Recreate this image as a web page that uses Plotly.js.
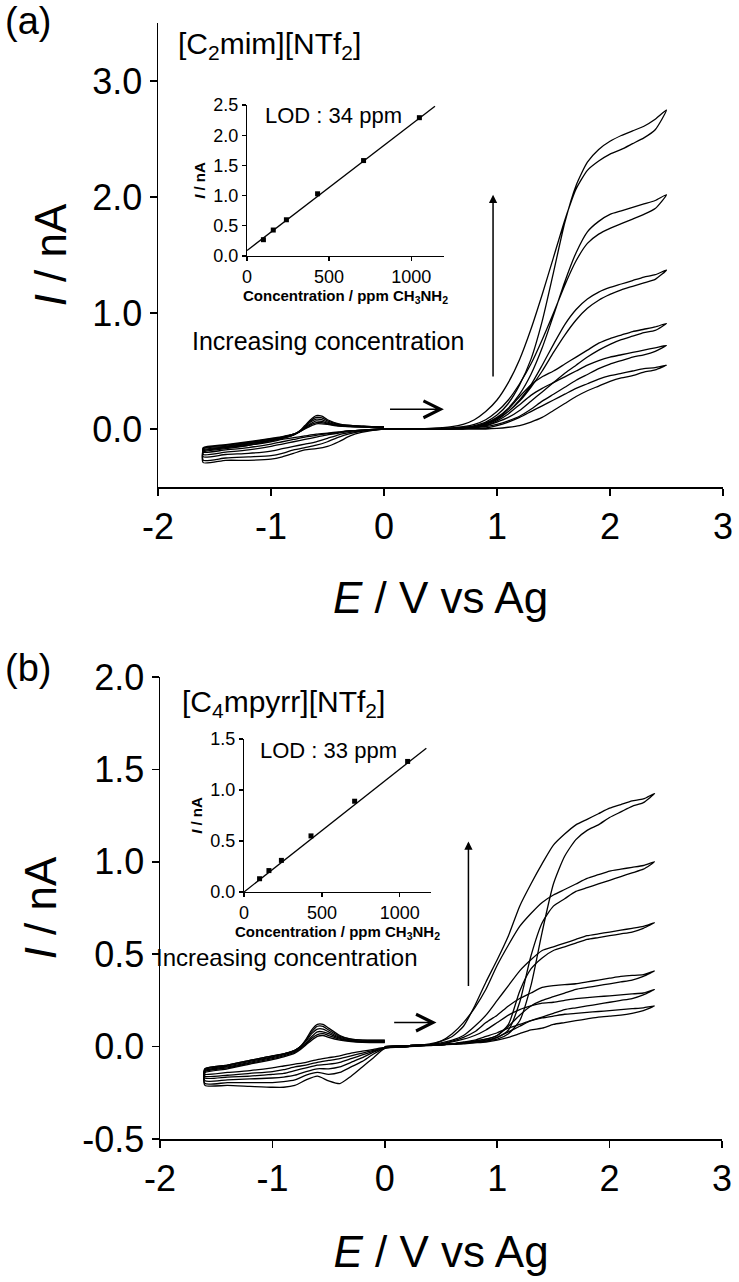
<!DOCTYPE html>
<html>
<head>
<meta charset="utf-8">
<script src="https://cdn.plot.ly/plotly-3.0.1.min.js"></script>
<style>html,body{margin:0;padding:0;background:#fff;}#chart{width:739px;height:1282px;}</style>
</head>
<body>
<div id="chart"></div>
<script>
// ---------- DATA ----------
// Panel (a): potential sweep 0 -> 2.5 -> 0 -> -1.6 -> 0 V
const potentialA = [0,0.2,0.4,0.6,0.7,0.8,0.9,1.0,1.1,1.2,1.3,1.4,1.5,1.6,1.7,1.8,1.9,2.0,2.1,2.2,2.3,2.4,2.5,
  2.4,2.3,2.2,2.1,2.0,1.9,1.8,1.7,1.6,1.5,1.4,1.3,1.2,1.1,1.0,0.9,0.8,0.7,0.6,0.4,0.2,0,
  -0.2,-0.3,-0.4,-0.5,-0.6,-0.7,-0.8,-0.9,-1.0,-1.2,-1.4,-1.6,
  -1.6,-1.4,-1.2,-1.0,-0.9,-0.8,-0.75,-0.7,-0.65,-0.6,-0.55,-0.5,-0.4,-0.3,-0.2,-0.1,0];
const currentA1 = [0,0,0,0.005,0.01,0.03,0.06,0.12,0.22,0.38,0.6,0.93,1.35,1.78,2.1,2.3,2.41,2.48,2.53,2.57,2.61,2.67,2.75,
  2.58,2.51,2.46,2.41,2.37,2.31,2.23,2.07,1.8,1.48,1.16,0.86,0.6,0.4,0.25,0.15,0.08,0.04,0.02,0.005,0,0,
  -0.03,-0.06,-0.11,-0.15,-0.17,-0.18,-0.21,-0.24,-0.26,-0.27,-0.27,-0.29,
  -0.2,-0.17,-0.14,-0.1,-0.08,-0.05,-0.02,0.03,0.08,0.115,0.11,0.08,0.045,0.03,0.025,0.02,0.02];
const currentA2 = [0,0,0,0.005,0.01,0.02,0.05,0.1,0.18,0.3,0.47,0.7,0.98,1.27,1.52,1.7,1.79,1.85,1.88,1.91,1.94,1.97,2.02,
  1.9,1.85,1.81,1.77,1.73,1.68,1.6,1.45,1.24,1.0,0.77,0.56,0.39,0.25,0.15,0.08,0.04,0.02,0.01,0,0,0,
  -0.02,-0.04,-0.07,-0.11,-0.14,-0.16,-0.18,-0.21,-0.23,-0.24,-0.25,-0.27,
  -0.19,-0.16,-0.13,-0.1,-0.08,-0.05,-0.02,0.02,0.07,0.1,0.095,0.07,0.04,0.03,0.025,0.02,0.02];
const currentA3 = [0,0,0,0.005,0.01,0.02,0.04,0.08,0.15,0.25,0.38,0.55,0.73,0.9,1.03,1.12,1.18,1.22,1.25,1.28,1.31,1.33,1.37,
  1.29,1.26,1.23,1.2,1.16,1.11,1.04,0.94,0.81,0.66,0.5,0.36,0.24,0.15,0.09,0.05,0.02,0.01,0.005,0,0,0,
  -0.015,-0.03,-0.05,-0.08,-0.11,-0.13,-0.15,-0.17,-0.19,-0.21,-0.22,-0.24,
  -0.18,-0.155,-0.125,-0.095,-0.075,-0.05,-0.025,0.015,0.06,0.085,0.08,0.06,0.035,0.025,0.02,0.02,0.02];
const currentA4 = [0,0,0,0.005,0.01,0.02,0.04,0.09,0.17,0.28,0.38,0.45,0.5,0.56,0.62,0.68,0.74,0.78,0.81,0.84,0.86,0.88,0.91,
  0.85,0.83,0.8,0.77,0.73,0.68,0.62,0.55,0.48,0.4,0.32,0.24,0.16,0.1,0.06,0.03,0.015,0.005,0,0,0,0,
  -0.01,-0.02,-0.035,-0.05,-0.07,-0.09,-0.11,-0.13,-0.15,-0.18,-0.2,-0.22,
  -0.17,-0.15,-0.12,-0.09,-0.07,-0.045,-0.025,0.01,0.045,0.07,0.065,0.05,0.03,0.022,0.02,0.018,0.018];
const currentA5 = [0,0,0,0,0.005,0.01,0.03,0.07,0.13,0.21,0.29,0.35,0.4,0.45,0.5,0.55,0.59,0.62,0.64,0.66,0.68,0.7,0.72,
  0.67,0.64,0.62,0.59,0.56,0.52,0.47,0.42,0.36,0.3,0.24,0.17,0.11,0.07,0.04,0.02,0.01,0,0,0,0,0,
  -0.01,-0.015,-0.03,-0.04,-0.055,-0.07,-0.09,-0.11,-0.13,-0.16,-0.18,-0.2,
  -0.165,-0.14,-0.115,-0.085,-0.07,-0.045,-0.025,0.005,0.035,0.055,0.055,0.045,0.03,0.02,0.018,0.016,0.016];
const currentA6 = [0,0,0,0,0,0.005,0.01,0.03,0.06,0.1,0.15,0.2,0.25,0.3,0.35,0.39,0.43,0.46,0.48,0.5,0.52,0.53,0.55,
  0.51,0.49,0.46,0.44,0.41,0.37,0.33,0.28,0.22,0.16,0.1,0.06,0.03,0.015,0.005,0,0,0,0,0,0,0,
  -0.01,-0.015,-0.025,-0.035,-0.045,-0.06,-0.075,-0.09,-0.11,-0.14,-0.16,-0.18,
  -0.16,-0.135,-0.11,-0.08,-0.065,-0.045,-0.025,0,0.025,0.045,0.045,0.04,0.025,0.02,0.016,0.015,0.015];

// Panel (b): potential sweep 0 -> 2.4 -> 0 -> -1.6 -> 0 V
const potentialB = [0,0.2,0.4,0.5,0.6,0.7,0.8,0.9,1.0,1.1,1.2,1.3,1.4,1.5,1.6,1.7,1.8,1.9,2.0,2.1,2.2,2.3,2.4,
  2.3,2.2,2.1,2.0,1.9,1.8,1.7,1.6,1.5,1.4,1.3,1.2,1.1,1.0,0.9,0.8,0.7,0.6,0.5,0.4,0.2,0,
  -0.1,-0.2,-0.3,-0.4,-0.5,-0.6,-0.7,-0.8,-0.9,-1.0,-1.2,-1.4,-1.6,
  -1.6,-1.4,-1.2,-1.0,-0.9,-0.8,-0.75,-0.7,-0.65,-0.6,-0.55,-0.5,-0.4,-0.3,-0.2,-0.1,0];
const currentB1 = [0,0.005,0.01,0.01,0.015,0.02,0.025,0.03,0.04,0.07,0.14,0.33,0.62,0.88,1.03,1.12,1.17,1.2,1.24,1.27,1.3,1.32,1.37,
  1.34,1.33,1.31,1.29,1.26,1.23,1.2,1.15,1.09,0.99,0.88,0.76,0.6,0.47,0.35,0.22,0.11,0.055,0.03,0.015,0,-0.01,
  -0.06,-0.11,-0.16,-0.2,-0.185,-0.16,-0.18,-0.21,-0.22,-0.22,-0.215,-0.21,-0.21,
  -0.12,-0.1,-0.075,-0.05,-0.04,-0.02,0,0.04,0.09,0.12,0.12,0.1,0.06,0.04,0.035,0.035,0.035];
const currentB2 = [0,0.005,0.01,0.01,0.015,0.02,0.025,0.03,0.05,0.09,0.24,0.49,0.67,0.76,0.8,0.84,0.86,0.88,0.9,0.92,0.94,0.96,1.0,
  0.98,0.97,0.96,0.95,0.93,0.91,0.88,0.85,0.82,0.78,0.72,0.65,0.55,0.44,0.31,0.21,0.13,0.07,0.03,0.01,0,-0.01,
  -0.04,-0.08,-0.11,-0.14,-0.15,-0.14,-0.155,-0.18,-0.19,-0.195,-0.195,-0.195,-0.2,
  -0.12,-0.1,-0.075,-0.05,-0.04,-0.02,0,0.035,0.08,0.11,0.11,0.09,0.055,0.04,0.035,0.033,0.033];
const currentB3 = [0,0.005,0.01,0.01,0.015,0.02,0.03,0.04,0.06,0.12,0.3,0.42,0.48,0.52,0.54,0.56,0.58,0.59,0.6,0.61,0.62,0.64,0.67,
  0.65,0.64,0.63,0.62,0.61,0.6,0.58,0.56,0.54,0.52,0.47,0.41,0.33,0.25,0.17,0.11,0.06,0.035,0.02,0.01,0,-0.005,
  -0.03,-0.06,-0.085,-0.11,-0.12,-0.12,-0.135,-0.155,-0.165,-0.17,-0.175,-0.18,-0.185,
  -0.125,-0.105,-0.08,-0.055,-0.04,-0.02,0,0.03,0.07,0.095,0.095,0.08,0.05,0.035,0.03,0.03,0.03];
const currentB4 = [0,0.005,0.01,0.01,0.015,0.02,0.03,0.04,0.06,0.11,0.17,0.22,0.25,0.27,0.29,0.31,0.32,0.33,0.34,0.35,0.36,0.38,0.41,
  0.39,0.385,0.38,0.37,0.36,0.35,0.34,0.335,0.33,0.32,0.29,0.26,0.22,0.17,0.13,0.08,0.05,0.03,0.015,0.01,0,-0.005,
  -0.025,-0.045,-0.065,-0.085,-0.095,-0.1,-0.115,-0.13,-0.145,-0.15,-0.16,-0.165,-0.17,
  -0.13,-0.11,-0.085,-0.06,-0.045,-0.025,-0.005,0.02,0.055,0.08,0.08,0.07,0.045,0.032,0.028,0.027,0.027];
const currentB5 = [0,0.005,0.01,0.01,0.015,0.02,0.025,0.035,0.05,0.08,0.11,0.14,0.16,0.18,0.2,0.21,0.22,0.23,0.24,0.25,0.26,0.28,0.31,
  0.29,0.285,0.28,0.275,0.27,0.265,0.26,0.25,0.24,0.235,0.22,0.2,0.17,0.13,0.09,0.06,0.04,0.025,0.015,0.01,0,-0.005,
  -0.02,-0.035,-0.05,-0.065,-0.075,-0.085,-0.1,-0.11,-0.125,-0.135,-0.145,-0.155,-0.16,
  -0.135,-0.115,-0.09,-0.065,-0.05,-0.03,-0.01,0.015,0.045,0.065,0.07,0.06,0.04,0.03,0.025,0.025,0.025];
const currentB6 = [0,0.005,0.01,0.01,0.012,0.015,0.02,0.025,0.035,0.05,0.07,0.09,0.1,0.12,0.13,0.14,0.15,0.16,0.165,0.17,0.18,0.195,0.22,
  0.21,0.205,0.2,0.195,0.19,0.185,0.18,0.175,0.165,0.155,0.14,0.12,0.1,0.075,0.055,0.035,0.025,0.015,0.01,0.005,0,-0.005,
  -0.015,-0.025,-0.035,-0.05,-0.06,-0.07,-0.085,-0.095,-0.105,-0.115,-0.13,-0.14,-0.15,
  -0.14,-0.12,-0.095,-0.07,-0.055,-0.035,-0.015,0.01,0.035,0.055,0.06,0.05,0.035,0.027,0.023,0.022,0.022];

// Insets: calibration
const concA = [100,160,240,430,710,1050];
const peakA = [0.27,0.43,0.60,1.03,1.58,2.29];
const fitConcA = [0,1145];
const fitPeakA = [0.09,2.48];
const concB = [100,160,240,430,710,1050];
const peakB = [0.13,0.21,0.31,0.55,0.89,1.28];
const fitConcB = [0,1170];
const fitPeakB = [0.0,1.41];

// Tick labels
const mainXTicks = [-2,-1,0,1,2,3];
const mainXText = ['-2','-1','0','1','2','3'];
const aYTicks = [0,1,2,3];
const aYText = ['0.0','1.0','2.0','3.0'];
const bYTicks = [-0.5,0,0.5,1,1.5,2];
const bYText = ['-0.5','0.0','0.5','1.0','1.5','2.0'];
const insetXTicks = [0,500,1000];
const insetXText = ['0','500','1000'];
const insetAYTicks = [0,0.5,1,1.5,2,2.5];
const insetAYText = ['0.0','0.5','1.0','1.5','2.0','2.5'];
const insetBYTicks = [0,0.5,1,1.5];
const insetBYText = ['0.0','0.5','1.0','1.5'];

// ---------- PLOT ----------
const W = 739, H = 1282;
const FONT = 'Liberation Sans, Arial, Helvetica, sans-serif';
const px = v => v / W;
const py = v => 1 - v / H;

const traces = [];
const lineStyle = {color:'#000', width:1.3, shape:'spline', smoothing:0.6};
[currentA1,currentA2,currentA3,currentA4,currentA5,currentA6].forEach(c => {
  traces.push({x:potentialA, y:c, xaxis:'x', yaxis:'y', mode:'lines', line:lineStyle, showlegend:false, hoverinfo:'skip'});
});
[currentB1,currentB2,currentB3,currentB4,currentB5,currentB6].forEach(c => {
  traces.push({x:potentialB, y:c, xaxis:'x2', yaxis:'y2', mode:'lines', line:lineStyle, showlegend:false, hoverinfo:'skip'});
});
traces.push({x:fitConcA, y:fitPeakA, xaxis:'x3', yaxis:'y3', mode:'lines', line:{color:'#000', width:1.3}, showlegend:false});
traces.push({x:concA, y:peakA, xaxis:'x3', yaxis:'y3', mode:'markers', marker:{symbol:'square', size:5, color:'#000'}, showlegend:false});
traces.push({x:fitConcB, y:fitPeakB, xaxis:'x4', yaxis:'y4', mode:'lines', line:{color:'#000', width:1.3}, showlegend:false});
traces.push({x:concB, y:peakB, xaxis:'x4', yaxis:'y4', mode:'markers', marker:{symbol:'square', size:5, color:'#000'}, showlegend:false});

function mainAxis(extra){
  return Object.assign({
    showline:true, linecolor:'#000', linewidth:1.5, mirror:false,
    ticks:'outside', ticklen:7, tickwidth:1.5, tickcolor:'#000',
    showgrid:false, zeroline:false, tickmode:'array',
    tickfont:{family:FONT, size:36, color:'#000'}
  }, extra);
}
function insetAxis(extra){
  return Object.assign({
    showline:true, linecolor:'#000', linewidth:1.2, mirror:false,
    ticks:'outside', ticklen:4, tickwidth:1.2, tickcolor:'#000',
    showgrid:false, zeroline:false, tickmode:'array',
    tickfont:{family:FONT, size:18, color:'#000'}
  }, extra);
}
function label(text, x, y, size){
  return {text:text, xref:'paper', yref:'paper', x:px(x), y:py(y), xanchor:'center', yanchor:'middle',
    showarrow:false, font:{family:FONT, size:size, color:'#000'}};
}

const layout = {
  width:W, height:H,
  margin:{l:0, r:0, t:0, b:0},
  paper_bgcolor:'#fff', plot_bgcolor:'rgba(0,0,0,0)',
  font:{family:FONT, color:'#000'},
  showlegend:false,
  xaxis: mainAxis({anchor:'y', domain:[px(158), px(723)], range:[-2,3], tickvals:mainXTicks, ticktext:mainXText,
    title:{text:'<i>E</i> / V vs Ag', font:{family:FONT, size:44}, standoff:36}}),
  yaxis: mainAxis({anchor:'x', domain:[py(487), py(23)], range:[-0.5,3.5], tickvals:aYTicks, ticktext:aYText,
    title:{text:'<i>I</i> / nA', font:{family:FONT, size:44}, standoff:12}}),
  xaxis2: mainAxis({anchor:'y2', domain:[px(160), px(722)], range:[-2,3], tickvals:mainXTicks, ticktext:mainXText,
    title:{text:'<i>E</i> / V vs Ag', font:{family:FONT, size:44}, standoff:38}}),
  yaxis2: mainAxis({anchor:'x2', domain:[py(1139), py(677)], range:[-0.5,2.0], tickvals:bYTicks, ticktext:bYText,
    title:{text:'<i>I</i> / nA', font:{family:FONT, size:44}, standoff:12}}),
  xaxis3: insetAxis({anchor:'y3', domain:[px(247), px(444)], range:[0,1200], tickvals:insetXTicks, ticktext:insetXText,
    title:{text:'<b>Concentration / ppm CH<sub>3</sub>NH<sub>2</sub></b>', font:{family:FONT, size:15}, standoff:0}}),
  yaxis3: insetAxis({anchor:'x3', domain:[py(256), py(105)], range:[0,2.5], tickvals:insetAYTicks, ticktext:insetAYText,
    title:{text:'<b><i>I</i> / nA</b>', font:{family:FONT, size:15}, standoff:4}}),
  xaxis4: insetAxis({anchor:'y4', domain:[px(244), px(431)], range:[0,1200], tickvals:insetXTicks, ticktext:insetXText,
    title:{text:'<b>Concentration / ppm CH<sub>3</sub>NH<sub>2</sub></b>', font:{family:FONT, size:15}, standoff:0}}),
  yaxis4: insetAxis({anchor:'x4', domain:[py(892), py(739)], range:[0,1.5], tickvals:insetBYTicks, ticktext:insetBYText,
    title:{text:'<b><i>I</i> / nA</b>', font:{family:FONT, size:15}, standoff:4}}),
  annotations:[
    label('(a)', 28, 21, 38),
    label('(b)', 28, 668, 38),
    label('[C<sub>2</sub>mim][NTf<sub>2</sub>]', 269, 45, 30),
    label('[C<sub>4</sub>mpyrr][NTf<sub>2</sub>]', 283, 703, 30),
    label('LOD : 34 ppm', 333, 115, 22),
    label('LOD : 33 ppm', 328, 750, 22),
    label('Increasing concentration', 328, 341, 25),
    label('Increasing concentration', 287, 957, 24),
    {text:'', xref:'x', yref:'y', x:0.965, y:2.02, axref:'x', ayref:'y', ax:0.965, ay:0.44, showarrow:true, arrowhead:2, arrowsize:1.1, arrowwidth:1.5, arrowcolor:'#000', standoff:0},
    {text:'', xref:'x', yref:'y', x:0.53, y:0.17, axref:'x', ayref:'y', ax:0.04, ay:0.17, showarrow:true, arrowhead:5, arrowsize:2.2, arrowwidth:1.5, arrowcolor:'#000', standoff:0},
    {text:'', xref:'x2', yref:'y2', x:0.744, y:1.11, axref:'x2', ayref:'y2', ax:0.744, ay:0.32, showarrow:true, arrowhead:2, arrowsize:1.1, arrowwidth:1.5, arrowcolor:'#000', standoff:0},
    {text:'', xref:'x2', yref:'y2', x:0.46, y:0.13, axref:'x2', ayref:'y2', ax:0.07, ay:0.13, showarrow:true, arrowhead:5, arrowsize:2.2, arrowwidth:1.5, arrowcolor:'#000', standoff:0}
  ]
};

Plotly.newPlot('chart', traces, layout, {staticPlot:true, displayModeBar:false});
</script>
</body>
</html>
